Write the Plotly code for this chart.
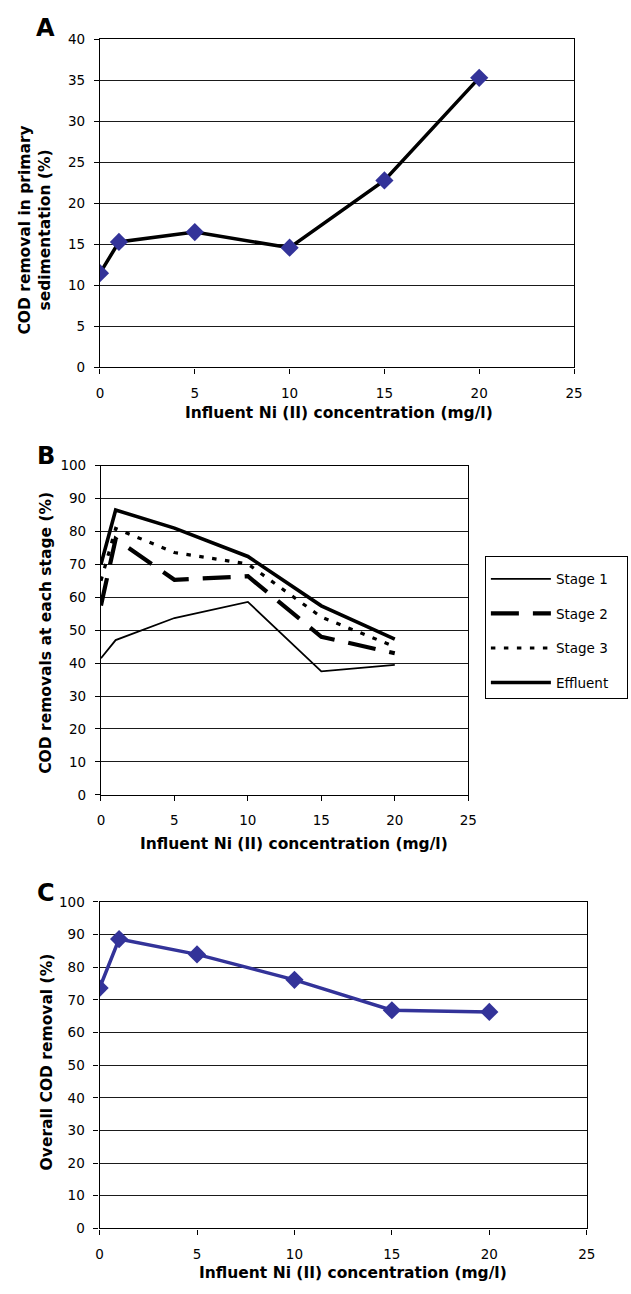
import plotly.graph_objects as go

# ---------------- data ----------------
ni_conc = [0, 1, 5, 10, 15, 20]

# Panel A: COD removal in primary sedimentation (%)
primary_removal = [11.5, 15.3, 16.5, 14.6, 22.8, 35.3]

# Panel B: COD removals at each stage (%)
stage_names = ["Stage 1", "Stage 2", "Stage 3", "Effluent"]
stage1 = [41.5, 47.0, 53.7, 58.6, 37.5, 39.5]
stage2 = [57.5, 77.7, 65.3, 66.4, 48.0, 43.0]
stage3 = [65.0, 80.9, 73.6, 70.1, 54.0, 45.0]
effluent = [70.0, 86.5, 81.0, 72.4, 57.4, 47.3]

# Panel C: overall COD removal (%)
overall_removal = [73.6, 88.6, 83.9, 76.1, 66.8, 66.3]

x_ticks = [0, 5, 10, 15, 20, 25]
yA_ticks = [0, 5, 10, 15, 20, 25, 30, 35, 40]
yBC_ticks = [0, 10, 20, 30, 40, 50, 60, 70, 80, 90, 100]

x_title = "Influent Ni (II) concentration (mg/l)"
yA_title = "COD removal in primary<br>sedimentation (%)"
yB_title = "COD removals at each stage (%)"
yC_title = "Overall COD removal (%)"
panel_letters = ["A", "B", "C"]

# ---------------- styling ----------------
W, H = 631, 1294
BLUE = "#333399"
FONT = "DejaVu Sans"
PAD = "\u00a0\u00a0\u00a0"  # right padding inside legend box


def px_x(v):
    return v / W


def px_y(v):
    return 1 - v / H


fig = go.Figure()

# Panel A
fig.add_trace(go.Scatter(
    x=ni_conc, y=primary_removal, mode="lines+markers",
    line=dict(color="black", width=3.5),
    marker=dict(symbol="diamond", size=14, color=BLUE),
    xaxis="x", yaxis="y", showlegend=False))

# Panel B
styles = [
    dict(color="black", width=1.8, dash="solid"),
    dict(color="black", width=4.2, dash="28px,14px"),
    dict(color="black", width=3.2, dash="4.5px,8.5px"),
    dict(color="black", width=3.6, dash="solid"),
]
for name, vals, st in zip(stage_names, [stage1, stage2, stage3, effluent], styles):
    fig.add_trace(go.Scatter(
        x=ni_conc, y=vals, mode="lines", name=name + PAD, line=st,
        xaxis="x2", yaxis="y2", legendgroup=name, showlegend=True))

# Panel C
fig.add_trace(go.Scatter(
    x=ni_conc, y=overall_removal, mode="lines+markers",
    line=dict(color=BLUE, width=3.5),
    marker=dict(symbol="diamond", size=14, color=BLUE),
    xaxis="x3", yaxis="y3", showlegend=False))

tickfont = dict(family=FONT, size=13.5, color="black")
common_x = dict(range=[0, 25], tickvals=x_ticks, ticks="outside", ticklen=5,
                tickcolor="black", showline=True, linecolor="black", linewidth=1.2,
                mirror=True, showgrid=False, zeroline=False, tickfont=tickfont,
                ticklabelstandoff=8, fixedrange=True)
common_y = dict(ticks="outside", ticklen=5, tickcolor="black", showline=True,
                linecolor="black", linewidth=1.2, mirror=True, showgrid=True,
                gridcolor="#1a1a1a", gridwidth=1, zeroline=False, tickfont=tickfont,
                ticklabelstandoff=6, fixedrange=True)

layout = dict(
    width=W, height=H, margin=dict(l=0, r=0, t=0, b=0),
    paper_bgcolor="white", plot_bgcolor="white",
    font=dict(family=FONT, color="black"),
    xaxis=dict(domain=[px_x(98), px_x(582)], anchor="y", **common_x),
    yaxis=dict(domain=[px_y(364), px_y(31.7)], anchor="x", range=[0, 40],
               tickvals=yA_ticks, **common_y),
    xaxis2=dict(domain=[px_x(99), px_x(474)], anchor="y2", **common_x),
    yaxis2=dict(domain=[px_y(796.7), px_y(463.3)], anchor="x2", range=[0, 100],
                tickvals=yBC_ticks, **common_y),
    xaxis3=dict(domain=[px_x(97.6), px_x(595)], anchor="y3", **common_x),
    yaxis3=dict(domain=[px_y(1235.7), px_y(905)], anchor="x3", range=[0, 100],
                tickvals=yBC_ticks, **common_y),
    legend=dict(x=px_x(491), y=px_y(555), xanchor="left", yanchor="top",
                bordercolor="black", borderwidth=1, bgcolor="white",
                font=dict(family=FONT, size=13.5, color="black"),
                title=dict(text=" ", font=dict(size=5)),
                itemwidth=60, tracegroupgap=14),
)
fig.update_layout(**layout)

title_font = dict(family=FONT, size=15.5, color="black")
annotations = []
# x-axis titles
for cx, cy in [(342, 410), (296, 846.5), (356, 1281)]:
    annotations.append(dict(text=f"<b>{x_title}</b>", x=px_x(cx), y=px_y(cy),
                            xref="paper", yref="paper", xanchor="center", yanchor="middle",
                            showarrow=False, font=title_font))
# y-axis titles
for txt, cx, cy in [(yA_title, 32, 225), (yB_title, 43, 632.5), (yC_title, 44, 1067.5)]:
    annotations.append(dict(text="<b>" + txt.replace("<br>", "</b><br><b>") + "</b>",
                            x=px_x(cx), y=px_y(cy), xref="paper", yref="paper",
                            xanchor="center", yanchor="middle", textangle=-90,
                            showarrow=False, font=title_font))
# panel letters
for letter, cy in zip(panel_letters, [20, 453.5, 896.5]):
    annotations.append(dict(text=f"<b>{letter}</b>", x=px_x(42.5), y=px_y(cy),
                            xref="paper", yref="paper", xanchor="center", yanchor="middle",
                            showarrow=False, font=dict(family=FONT, size=24, color="black")))
fig.update_layout(annotations=annotations)

fig.write_html("out.html")
